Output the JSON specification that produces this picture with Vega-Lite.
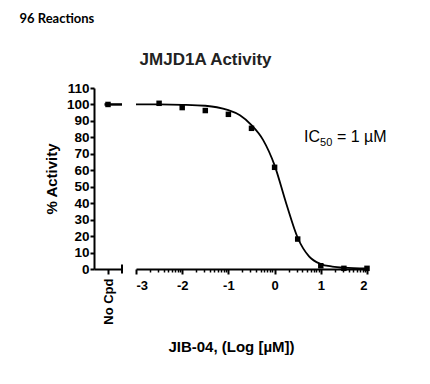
{
  "$schema": "https://vega.github.io/schema/vega-lite/v6.json",
  "background": "white",
  "padding": {"left": 19, "top": 13, "right": 5, "bottom": 5},
  "datasets": {
    "nocpd": [{"x": 1, "y": 100}],
    "points": [
      {"x": -2.5, "y": 100.7},
      {"x": -2, "y": 98.1},
      {"x": -1.5, "y": 96.3},
      {"x": -1, "y": 94},
      {"x": -0.5, "y": 85.5},
      {"x": 0, "y": 61.8},
      {"x": 0.5, "y": 18.2},
      {"x": 1, "y": 2},
      {"x": 1.5, "y": 0.4},
      {"x": 2, "y": 0.4}
    ],
    "curve": [
      {"x": -3, "y": 100},
      {"x": -2.5, "y": 100},
      {"x": -2, "y": 99.8},
      {"x": -1.5, "y": 99.2},
      {"x": -1.25, "y": 98.3},
      {"x": -1, "y": 96.5},
      {"x": -0.75, "y": 93.5},
      {"x": -0.5, "y": 87.5},
      {"x": -0.25, "y": 78.5},
      {"x": 0, "y": 63},
      {"x": 0.25, "y": 40},
      {"x": 0.5, "y": 19},
      {"x": 0.75, "y": 7.5},
      {"x": 1, "y": 3},
      {"x": 1.25, "y": 1.5},
      {"x": 1.5, "y": 0.8},
      {"x": 2, "y": 0.3}
    ],
    "ic50": [
      {"x": 0.637, "y": 77.4, "t": "IC", "s": "big"},
      {"x": 0.985, "y": 75, "t": "50", "s": "sub"},
      {"x": 1.35, "y": 77.4, "t": "= 1 µM", "s": "big"}
    ]
  },
  "title": {
    "text": "96 Reactions",
    "anchor": "start",
    "font": "Lato",
    "fontSize": 13,
    "fontWeight": "bold",
    "color": "black",
    "dx": -25,
    "offset": 25
  },
  "vconcat": [
    {
      "title": {
        "text": "JMJD1A Activity",
        "anchor": "middle",
        "font": "Liberation Sans",
        "fontSize": 17,
        "fontWeight": "bold",
        "color": "#222222",
        "dx": -10,
        "offset": 12
      },
      "bounds": "flush",
      "spacing": 14,
      "hconcat": [
        {
          "width": 28,
          "height": 181,
          "data": {"name": "nocpd"},
          "resolve": {"axis": {"x": "independent", "y": "independent"}},
          "layer": [
            {
              "mark": {"type": "point", "shape": "square", "filled": true, "color": "black", "size": 30, "opacity": 1},
              "encoding": {
                "x": {
                  "field": "x",
                  "type": "quantitative",
                  "scale": {"domain": [0, 2], "nice": false, "zero": false},
                  "axis": {
                    "orient": "bottom",
                    "values": [1],
                    "labelExpr": "'No Cpd'",
                    "labelAngle": -90,
                    "labelAlign": "right",
                    "labelBaseline": "middle",
                    "labelFontSize": 13,
                    "labelPadding": 4,
                    "tickSize": 5,
                    "title": null
                  }
                },
                "y": {
                  "field": "y",
                  "type": "quantitative",
                  "scale": {"domain": [0, 110], "nice": false},
                  "axis": {
                    "orient": "left",
                    "values": [0, 10, 20, 30, 40, 50, 60, 70, 80, 90, 100, 110],
                    "labelOverlap": false,
                    "tickSize": 4,
                    "labelPadding": 1,
                    "labelFontSize": 13.5,
                    "title": "% Activity",
                    "titleFontSize": 15,
                    "titlePadding": 7
                  }
                }
              }
            },
            {
              "mark": {"type": "rule", "color": "black", "strokeWidth": 2.5},
              "encoding": {
                "x": {"datum": 0.75, "type": "quantitative", "axis": null},
                "x2": {"datum": 2},
                "y": {"datum": 100, "type": "quantitative", "axis": null}
              }
            },
            {
              "mark": {"type": "rule", "color": "black", "strokeWidth": 2},
              "encoding": {
                "x": {"datum": 2, "type": "quantitative", "axis": null},
                "y": {"datum": -2.8, "type": "quantitative", "axis": null},
                "y2": {"datum": 2.8}
              }
            }
          ]
        },
        {
          "width": 231,
          "height": 181,
          "resolve": {"axis": {"x": "independent"}},
          "layer": [
            {
              "data": {"name": "curve"},
              "mark": {"type": "line", "color": "black", "strokeWidth": 1.8, "interpolate": "monotone"},
              "encoding": {
                "x": {
                  "field": "x",
                  "type": "quantitative",
                  "scale": {"domain": [-3, 2], "nice": false, "zero": false},
                  "axis": {
                    "orient": "bottom",
                    "values": [-3, -2, -1, 0, 1, 2],
                    "labelExpr": "datum.value < 0 ? '-' + abs(datum.value) : '' + datum.value",
                    "tickSize": 5,
                    "labelPadding": 5,
                    "labelFontSize": 13,
                    "title": "JIB-04, (Log [µM])",
                    "titleFontSize": 15,
                    "titlePadding": 47,
                    "titleX": 95
                  }
                },
                "y": {
                  "field": "y",
                  "type": "quantitative",
                  "scale": {"domain": [0, 110], "nice": false},
                  "axis": null
                }
              }
            },
            {
              "data": {"name": "points"},
              "mark": {"type": "point", "shape": "square", "filled": true, "color": "black", "size": 30, "opacity": 1},
              "encoding": {
                "x": {
                  "field": "x",
                  "type": "quantitative",
                  "axis": {
                    "orient": "bottom",
                    "values": [-2.699, -2.523, -2.398, -2.301, -2.222, -2.155, -2.097, -2.046,
                               -1.699, -1.523, -1.398, -1.301, -1.222, -1.155, -1.097, -1.046,
                               -0.699, -0.523, -0.398, -0.301, -0.222, -0.155, -0.097, -0.046,
                               0.301, 0.477, 0.602, 0.699, 0.778, 0.845, 0.903, 0.954,
                               1.301, 1.477, 1.602, 1.699, 1.778, 1.845, 1.903, 1.954],
                    "labels": false,
                    "domain": false,
                    "tickSize": 3,
                    "tickWidth": 1.5,
                    "title": null
                  }
                },
                "y": {"field": "y", "type": "quantitative", "axis": null}
              }
            },
            {
              "mark": {"type": "rule", "color": "black", "strokeWidth": 2},
              "encoding": {
                "x": {"datum": -3, "type": "quantitative", "axis": null},
                "y": {"datum": -2.8, "type": "quantitative", "axis": null},
                "y2": {"datum": 2.8}
              }
            },
            {
              "mark": {"type": "rule", "color": "black", "strokeWidth": 2},
              "encoding": {
                "x": {"datum": 2, "type": "quantitative", "axis": null},
                "y": {"datum": -2.8, "type": "quantitative", "axis": null},
                "y2": {"datum": 2.8}
              }
            },
            {
              "data": {"name": "ic50"},
              "mark": {"type": "text", "align": "left", "baseline": "alphabetic", "font": "Liberation Sans", "color": "black"},
              "encoding": {
                "x": {"field": "x", "type": "quantitative", "axis": null},
                "y": {"field": "y", "type": "quantitative", "axis": null},
                "text": {"field": "t"},
                "size": {
                  "field": "s",
                  "type": "nominal",
                  "scale": {"domain": ["big", "sub"], "range": [16, 11]},
                  "legend": null
                }
              }
            }
          ]
        }
      ]
    }
  ],
  "config": {
    "view": {"stroke": null},
    "axis": {
      "grid": false,
      "labelFont": "Liberation Sans",
      "labelFontWeight": "bold",
      "labelColor": "black",
      "titleFont": "Liberation Sans",
      "titleFontWeight": "bold",
      "titleColor": "black",
      "domainColor": "black",
      "domainWidth": 2,
      "tickColor": "black",
      "tickWidth": 2
    }
  }
}
